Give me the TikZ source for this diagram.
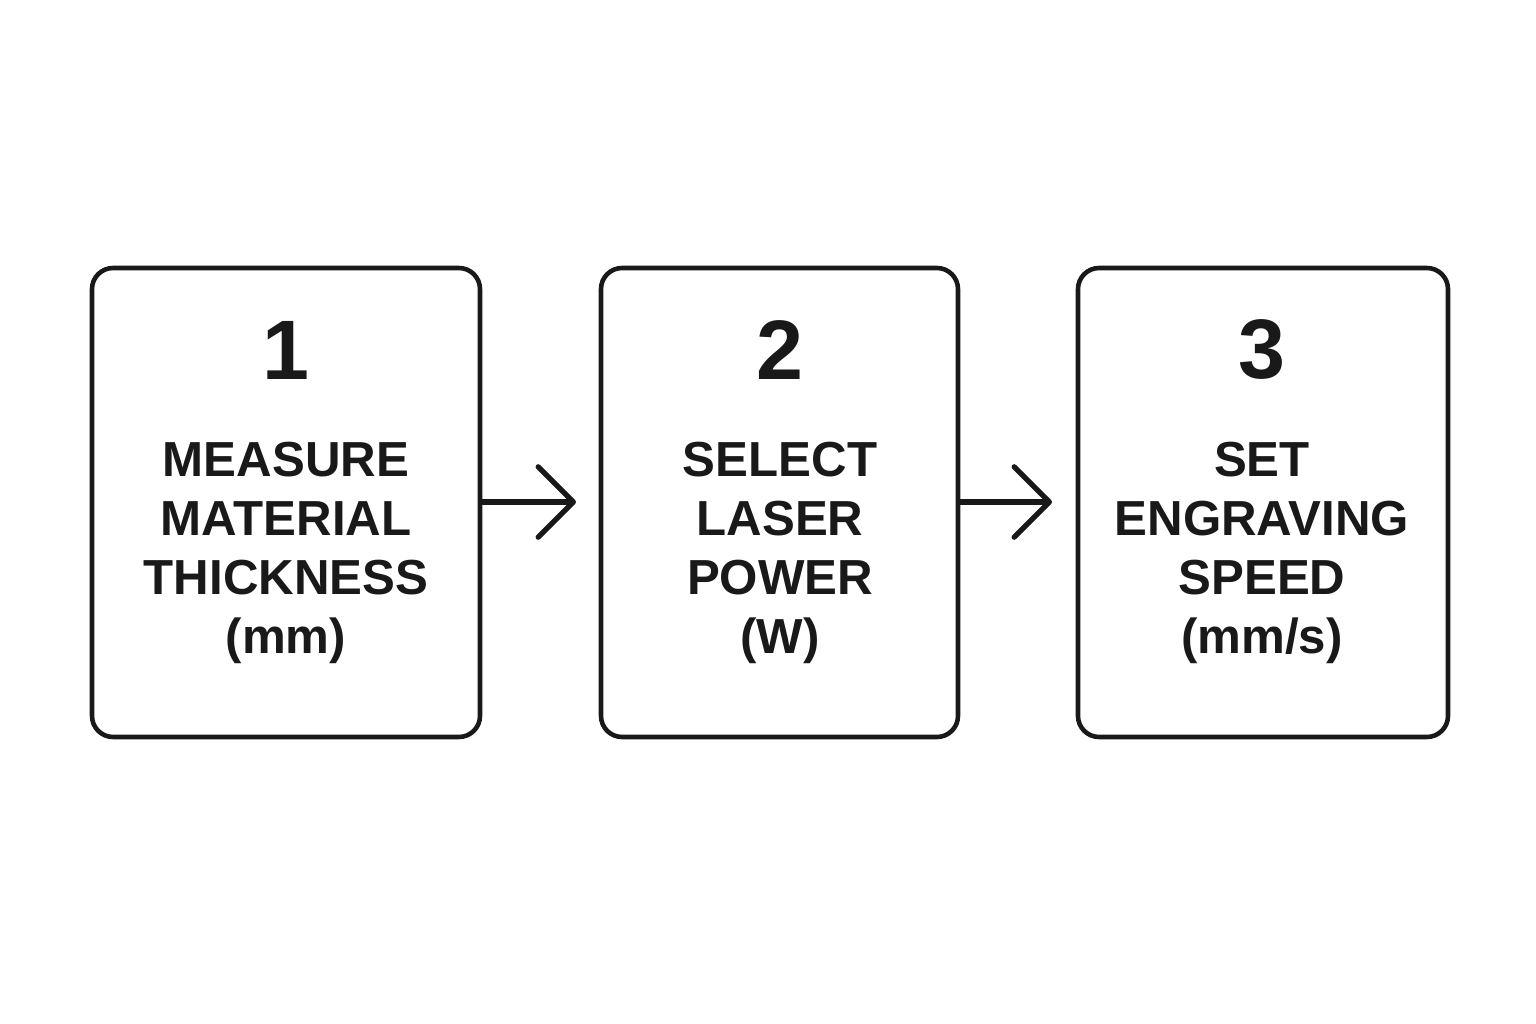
\documentclass[tikz,border=0pt]{standalone}
\usepackage{fontspec}
\setmainfont{Liberation Sans}
\usetikzlibrary{arrows.meta}
\begin{document}
\begin{tikzpicture}[x=0.01cm,y=-0.01cm,
  box/.style={draw=black!90,line width=1.3pt,rounded corners=6pt},
  num/.style={font=\fontsize{24}{28}\selectfont\bfseries,text=black!90},
  lbl/.style={font=\fontsize{14}{16.8}\selectfont\bfseries,align=center,text=black!90},
  arr/.style={draw=black!90,line width=1.5pt,-{Straight Barb[length=10pt,width=20pt,line width=1.5pt,round]}}]
\useasboundingbox (0,0) rectangle (1536,1024);
\draw[box] (92,268) rectangle (480,737);
\draw[box] (601,268) rectangle (958,737);
\draw[box] (1078,268) rectangle (1448,737);
\coordinate (b1) at (480,502); \coordinate (b2) at (958,502);
\node[num] (n1) at (286,350) {1};
\node[num] (n2) at (780,350) {2};
\node[num] (n3) at (1262,350) {3};
\node[lbl] (t1) at (286,553) {MEASURE\\MATERIAL\\THICKNESS\\(mm)};
\node[lbl] (t2) at (780,553) {SELECT\\LASER\\POWER\\(W)};
\node[lbl] (t3) at (1262,553) {SET\\ENGRAVING\\SPEED\\(mm/s)};
\draw[arr] (b1) -- (576,502);
\draw[arr] (b2) -- (1052,502);
\end{tikzpicture}
\end{document}
